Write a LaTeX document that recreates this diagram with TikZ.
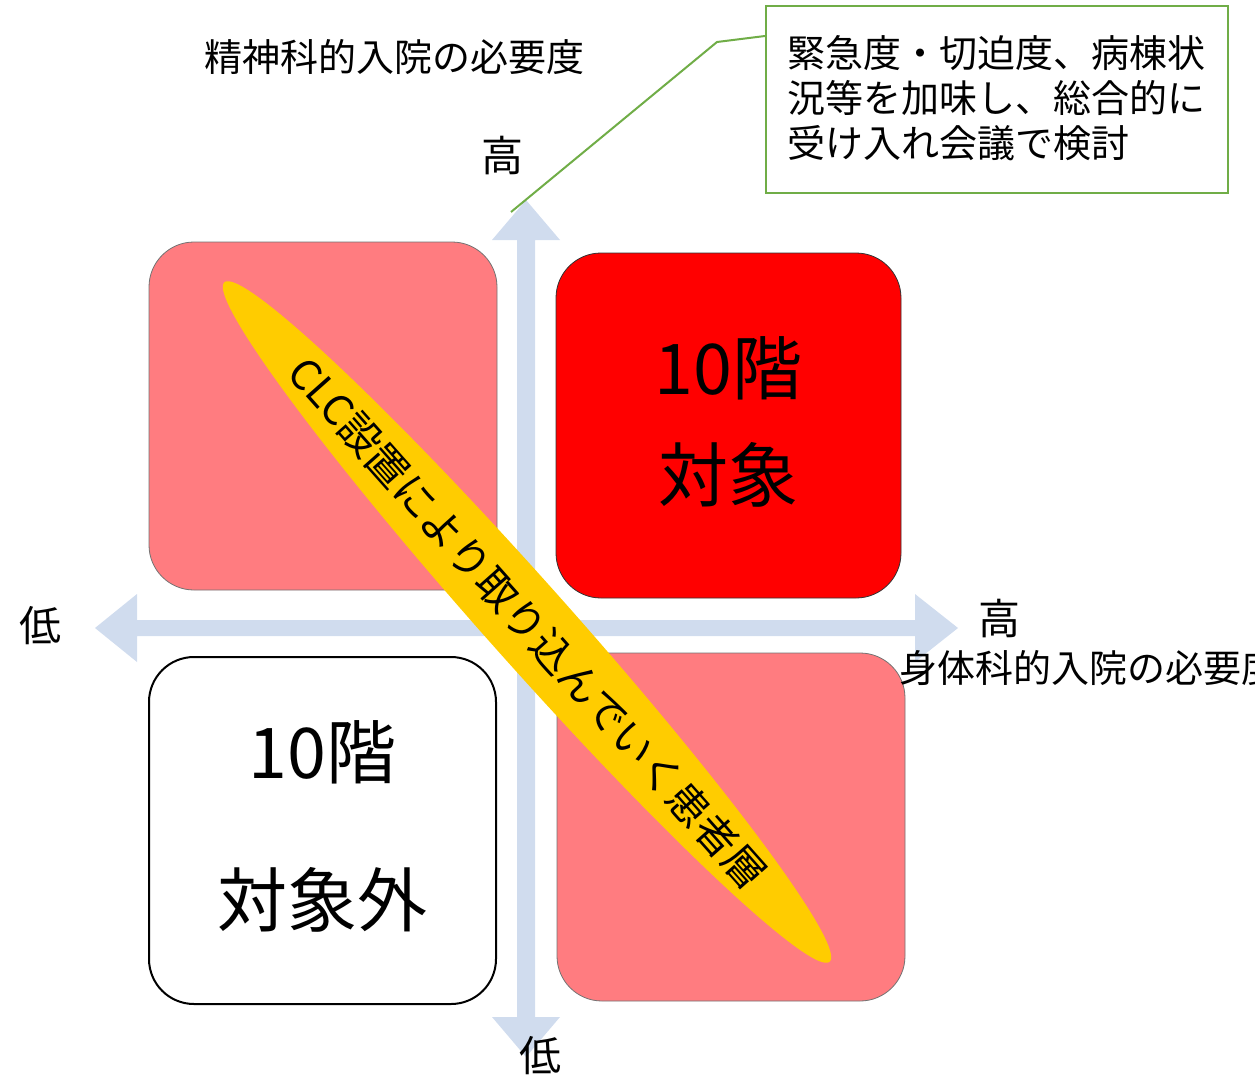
\documentclass[tikz,border=0pt]{standalone}
\usepackage{fontspec}
\setmainfont{Noto Sans CJK JP}
\usetikzlibrary{shapes.geometric,calc}
\definecolor{axisblue}{HTML}{D0DCEE}
\definecolor{pinkq}{HTML}{FF7C80}
\definecolor{redq}{HTML}{FF0000}
\definecolor{yellowq}{HTML}{FFCC00}
\definecolor{greenq}{HTML}{70AD47}
\tikzset{
  quad/.style={rounded corners=45pt, minimum width=348pt, minimum height=348pt, inner sep=0pt, align=center},
  lbl/.style={inner sep=0pt, font=\fontsize{38}{44}\selectfont},
  axislbl/.style={inner sep=0pt, font=\fontsize{42}{46}\selectfont}
}
\begin{document}
\begin{tikzpicture}[x=1pt,y=-1pt]
\useasboundingbox (0,0) rectangle (1255,1076);
% axes
\fill[axisblue] (526,200) -- (560,240) -- (535,240) -- (535,1017) -- (560,1017) -- (526,1057) -- (492,1017) -- (517,1017) -- (517,240) -- (492,240) -- cycle;
\fill[axisblue] (95,628) -- (137,594) -- (137,620) -- (915,620) -- (915,594) -- (958,628) -- (915,662) -- (915,636) -- (137,636) -- (137,662) -- cycle;
% quadrants
\node[quad, fill=pinkq, draw=black!55, line width=0.8pt] (tl) at (323,416) {};
\node[quad, fill=redq, draw=black!80, line width=0.8pt, minimum width=345pt, minimum height=345pt] (tr) at (728.5,425.5) {};
\node[inner sep=0pt, align=center, font=\fontsize{70}{107}\selectfont] (trtxt) at ($(tr.center)+(0,-4)$) {10階\\対象};
\node[quad, fill=white, draw=black, line width=2pt, minimum width=347pt, minimum height=347pt] (bl) at (322.5,830.5) {};
\node[inner sep=0pt, align=center, font=\fontsize{70}{148}\selectfont] (bltxt) at ($(bl.center)+(0,-4)$) {10階\\対象外};
\node[quad, fill=pinkq, draw=black!55, line width=0.8pt] (br) at (731,827) {};
% ellipse
\node[ellipse, fill=yellowq, minimum width=910pt, minimum height=82pt, rotate=-48.3, inner sep=0pt] (band) at (527,622) {};
\node[rotate=-48.4, inner sep=0pt, font=\fontsize{41.5}{46}\selectfont] (bandtxt) at (528,623) {CLC設置により取り込んでいく患者層};
% labels
\node[lbl, anchor=west] (ylab) at (204,57) {精神科的入院の必要度};
\node[axislbl] (yhigh) at (502,156) {高};
\node[axislbl] (xlow) at (40,626) {低};
\node[axislbl] (xhigh) at (999,619) {高};
\node[lbl, anchor=west] (xlab) at (899,668) {身体科的入院の必要度};
\node[axislbl] (ylow) at (540,1056) {低};
% callout
\node[draw=greenq, line width=2pt, fill=white, minimum width=462pt, minimum height=187pt, inner sep=0pt] (callout) at (997,99.5) {};
\node[anchor=north west, inner sep=0pt, align=left, font=\fontsize{38}{45}\selectfont] (callouttxt) at (787,35) {緊急度・切迫度、病棟状\\況等を加味し、総合的に\\受け入れ会議で検討};
\coordinate (ctip) at (511,212);
\coordinate (cbend) at (717,42);
\draw[greenq, line width=2pt] (ctip) -- (cbend) -- (callout.west |- 0,36);
\end{tikzpicture}
\end{document}
